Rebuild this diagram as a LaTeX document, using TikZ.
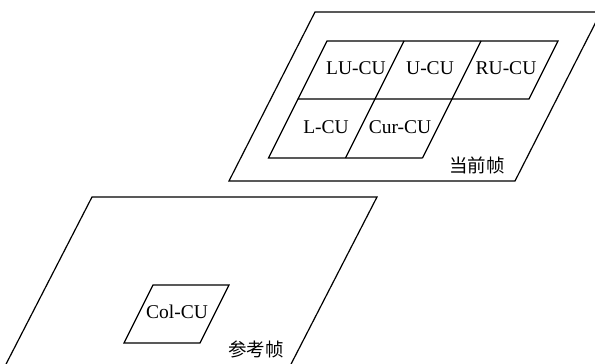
\documentclass[tikz,border=0pt]{standalone}
\usepackage{fontspec}
\setmainfont{Liberation Serif}
\newfontfamily\cjk{Noto Sans CJK SC}

\tikzset{
    frame/.style={line width=1.2pt, line join=miter},
    cu/.style={font=\fontsize{19.5}{23}\selectfont, inner sep=0pt},
    frametag/.style={font=\cjk\fontsize{18.5}{21}\selectfont, inner sep=0pt}
}

\begin{document}
\begin{tikzpicture}[x=1pt, y=-1pt]
    \useasboundingbox (0, 0) rectangle (595, 364);
    \clip (0, 0) rectangle (595, 364);

    % current frame
    \draw[frame] (315, 12) -- (601, 12) -- (515, 181) -- (229, 181) -- cycle;
    \draw[frame] (327, 41) -- (558, 41) -- (529, 99) -- (298, 99) -- cycle;
    \draw[frame] (298, 99) -- (268.5, 158) -- (422.5, 158);
    \draw[frame] (404, 41) -- (345.5, 158);
    \draw[frame] (481, 41) -- (422.5, 158);

    \node[cu] (lucu) at (356, 68) {LU-CU};
    \node[cu] (ucu) at (430, 68) {U-CU};
    \node[cu] (rucu) at (506, 68) {RU-CU};
    \node[cu] (lcu) at (326, 127) {L-CU};
    \node[cu] (curcu) at (400, 127) {Cur-CU};
    \node[frametag] (curframe) at (477, 165) {当前帧};

    % reference frame (runs off the bottom)
    \draw[frame] (92, 197) -- (377, 197) -- (288, 370) -- (3, 370) -- cycle;
    \draw[frame] (153, 285) -- (229, 285) -- (200, 343) -- (124, 343) -- cycle;

    \node[cu] (colcu) at (177, 312) {Col-CU};
    \node[frametag] (refframe) at (256, 349) {参考帧};
\end{tikzpicture}
\end{document}
